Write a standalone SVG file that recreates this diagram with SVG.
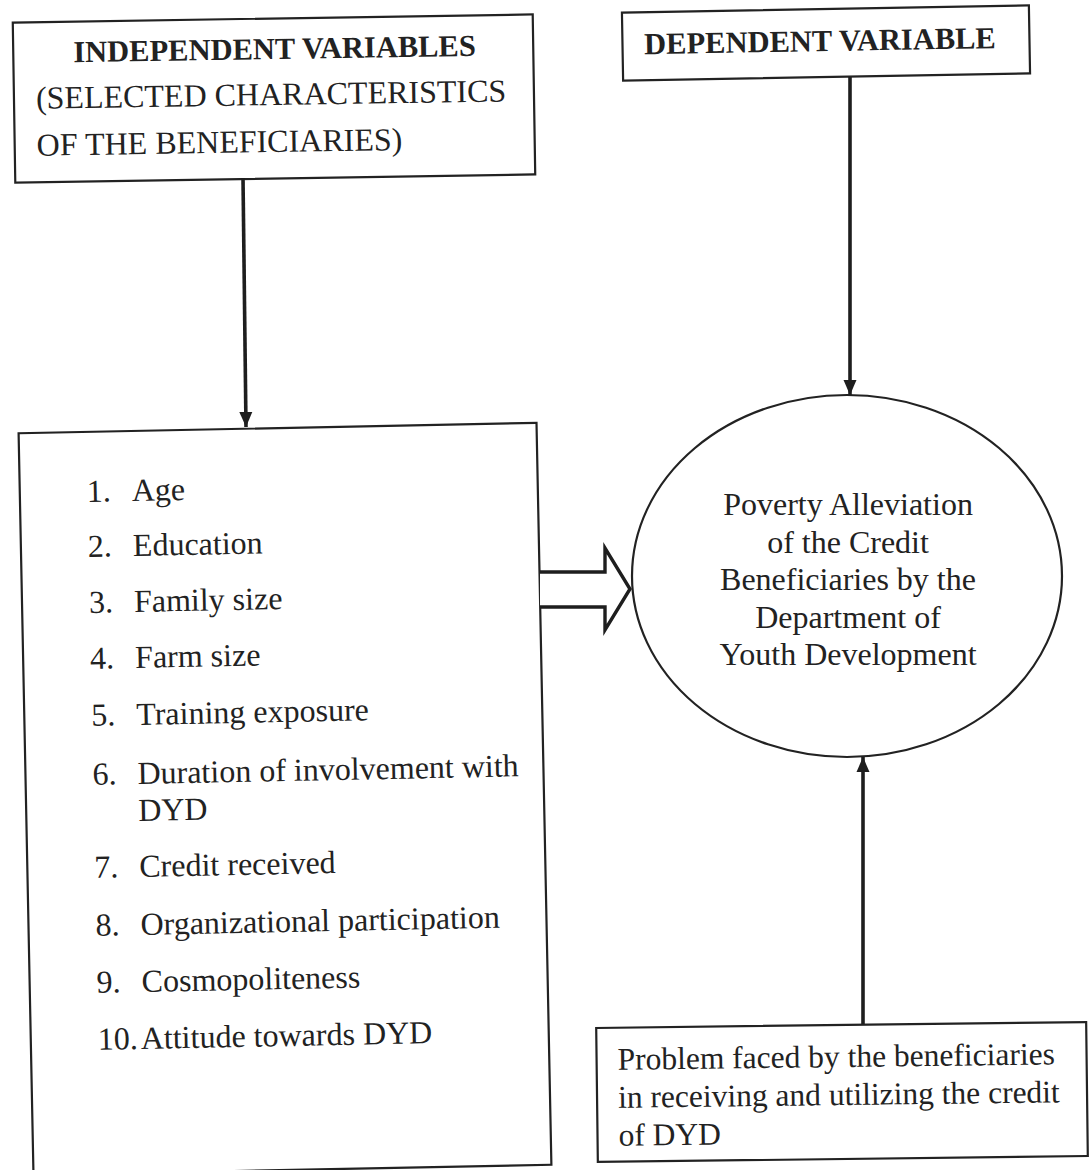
<svg xmlns="http://www.w3.org/2000/svg" width="1091" height="1170" viewBox="0 0 1091 1170">
  <style>
    .box { fill: none; stroke: #222; stroke-width: 2.2; }
    .t { font-family: "Liberation Serif", "Times New Roman", serif; font-size: 32px; fill: #222; }
    .s { font-size: 31.5px; }
    .b { font-family: "Liberation Serif", "Times New Roman", serif; font-size: 30.5px; font-weight: bold; fill: #222; }
    .c { text-anchor: middle; }
    .conn { stroke: #1e1e1e; stroke-width: 3.6; fill: none; }
    .hollow { stroke: #1e1e1e; stroke-width: 3.4; fill: #fff; stroke-linejoin: miter; }
  </style>
  <defs>
    <marker id="arrow" markerUnits="userSpaceOnUse" markerWidth="16" markerHeight="14" viewBox="0 0 16 14" refX="15" refY="7" orient="auto">
      <path d="M0,0.5 L15,7 L0,13.5 Z" fill="#1e1e1e"/>
    </marker>
  </defs>
  <rect width="1091" height="1170" fill="#fff"/>

  <g id="independent-variables" transform="rotate(-0.9 274 98.5)">
    <rect class="box" x="14" y="18.5" width="520" height="160"/>
    <text class="b" x="74" y="59">INDEPENDENT VARIABLES</text>
    <text class="t" x="36" y="105">(SELECTED CHARACTERISTICS</text>
    <text class="t" x="36" y="152">OF THE BENEFICIARIES)</text>
  </g>

  <g id="dependent-variable" transform="rotate(-1 826 43)">
    <rect class="box" x="622.5" y="9" width="407" height="68"/>
    <text class="b c" x="820" y="51">DEPENDENT VARIABLE</text>
  </g>

  <g id="characteristics-list" transform="rotate(-1.15 285 799)">
    <rect class="box" x="26" y="428" width="518" height="742"/>
    <text class="t" x="93" y="498">1.</text><text class="t" x="138" y="498">Age</text>
    <text class="t" x="93" y="553">2.</text><text class="t" x="138" y="553">Education</text>
    <text class="t" x="93" y="609">3.</text><text class="t" x="138" y="609">Family size</text>
    <text class="t" x="93" y="665">4.</text><text class="t" x="138" y="665">Farm size</text>
    <text class="t" x="93" y="722">5.</text><text class="t" x="138" y="722">Training exposure</text>
    <text class="t" x="93" y="781">6.</text><text class="t" x="138" y="781">Duration of involvement with</text>
    <text class="t" x="138" y="818">DYD</text>
    <text class="t" x="93" y="874">7.</text><text class="t" x="138" y="874">Credit received</text>
    <text class="t" x="93" y="932">8.</text><text class="t" x="138" y="932">Organizational participation</text>
    <text class="t" x="93" y="989">9.</text><text class="t" x="138" y="989">Cosmopoliteness</text>
    <text class="t" x="93" y="1046">10.</text><text class="t" x="136" y="1046">Attitude towards DYD</text>
  </g>

  <g id="poverty-alleviation">
    <ellipse class="box" cx="847" cy="576" rx="215" ry="181"/>
    <text class="t c" x="848" y="515">Poverty Alleviation</text>
    <text class="t c" x="848" y="552.5">of the Credit</text>
    <text class="t c" x="848" y="590">Beneficiaries by the</text>
    <text class="t c" x="848" y="627.5">Department of</text>
    <text class="t c" x="848" y="665">Youth Development</text>
  </g>

  <g id="problems" transform="rotate(-0.7 842 1092)">
    <rect class="box" x="597" y="1025" width="490" height="134"/>
    <text class="t s" x="618" y="1067">Problem faced by the beneficiaries</text>
    <text class="t s" x="618" y="1105">in receiving and utilizing the credit</text>
    <text class="t s" x="618" y="1143">of DYD</text>
  </g>

  <g id="connectors">
    <line class="conn" x1="243" y1="178" x2="246" y2="427" marker-end="url(#arrow)"/>
    <line class="conn" x1="850" y1="77" x2="850" y2="395" marker-end="url(#arrow)"/>
    <line class="conn" x1="863" y1="1024" x2="863" y2="757" marker-end="url(#arrow)"/>
    <path class="hollow" d="M540,572 L605,572 L605,548 L630,589 L605,630 L605,607 L540,607"/>
  </g>
</svg>
